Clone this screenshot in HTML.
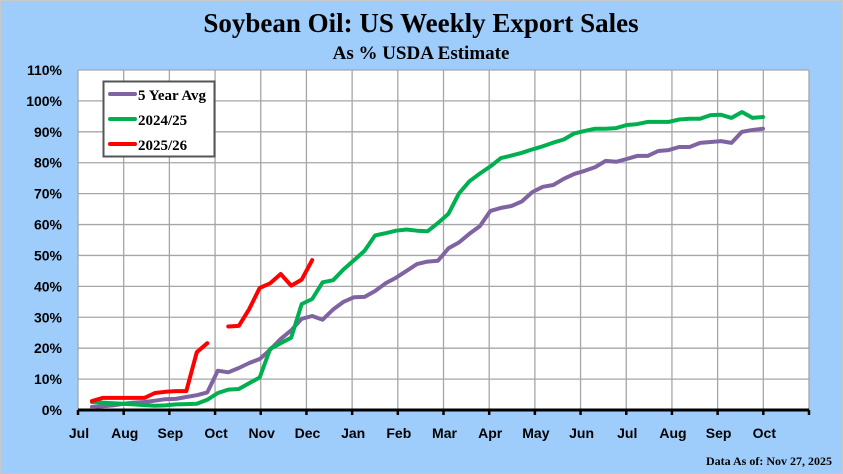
<!DOCTYPE html>
<html><head><meta charset="utf-8"><style>
html,body{margin:0;padding:0;}
body{width:843px;height:474px;overflow:hidden;background:#9fcdfb;}
svg{display:block;}
</style></head><body>
<svg width="843" height="474" xmlns="http://www.w3.org/2000/svg">
<rect x="0.5" y="0.5" width="842" height="473" fill="#9fcdfb" stroke="#c8c8c8"/>
<text x="421" y="32" text-anchor="middle" font-family="Liberation Serif, serif" font-weight="bold" font-size="27" fill="#000">Soybean Oil: US Weekly Export Sales</text>
<text x="421" y="59" text-anchor="middle" font-family="Liberation Serif, serif" font-weight="bold" font-size="19" fill="#000">As % USDA Estimate</text>
<rect x="78" y="70" width="731" height="340" fill="#fff"/>
<g id="grid"></g>
<g id="axes"></g>
<g id="series"></g>
<g>
<rect x="103.5" y="81.5" width="111" height="75" fill="#fff" stroke="#555" stroke-width="2"/>
<line x1="110" y1="94" x2="135" y2="94" stroke="#8064a2" stroke-width="4" stroke-linecap="round"/>
<text x="138" y="100" font-family="Liberation Serif, serif" font-weight="bold" font-size="15">5 Year Avg</text>
<line x1="110" y1="119" x2="135" y2="119" stroke="#00b050" stroke-width="4" stroke-linecap="round"/>
<text x="138" y="125" font-family="Liberation Serif, serif" font-weight="bold" font-size="15">2024/25</text>
<line x1="110" y1="144" x2="135" y2="144" stroke="#ff0000" stroke-width="4" stroke-linecap="round"/>
<text x="138" y="150" font-family="Liberation Serif, serif" font-weight="bold" font-size="15">2025/26</text>
</g>
<text x="832" y="465" text-anchor="end" font-family="Liberation Serif, serif" font-weight="bold" font-size="12">Data As of: Nov 27, 2025</text>
</svg>
<script>
const monthLabels=["Jul","Aug","Sep","Oct","Nov","Dec","Jan","Feb","Mar","Apr","May","Jun","Jul","Aug","Sep","Oct"];
const yTicks=[0,10,20,30,40,50,60,70,80,90,100,110];
const weeks=[];for(let i=0;i<=65;i++)weeks.push(i);
const avg5=[null,1.0,1.2,1.5,2,2.4,2.6,3,3.5,3.6,4.2,4.8,5.7,12.7,12.2,13.6,15.2,16.5,19.5,23,25.8,29.5,30.4,29.2,32.5,35,36.5,36.6,38.5,41,42.8,45,47.2,48,48.3,52.3,54.2,57,59.5,64.4,65.4,66,67.5,70.5,72.2,72.8,74.8,76.4,77.4,78.6,80.6,80.3,81.2,82.2,82.2,83.8,84.1,85.1,85.1,86.4,86.7,87,86.4,90,90.6,91];
const y2024=[null,2.6,2.4,2.2,2,1.8,1.6,1.4,1.5,1.8,1.9,2,3.3,5.5,6.6,6.8,8.7,10.5,19.8,21.6,23.4,34.3,35.9,41.3,42,45.5,48.5,51.5,56.5,57.2,58,58.4,58,57.8,60.5,63.5,70,74,76.5,78.8,81.5,82.3,83.2,84.3,85.3,86.5,87.5,89.5,90.3,91,91,91.2,92.2,92.5,93.2,93.2,93.2,94,94.2,94.2,95.4,95.5,94.5,96.4,94.5,94.8];
const y2025=[null,2.9,3.9,3.9,3.9,3.9,3.9,5.5,5.9,6.1,6.1,18.7,21.6,null,27,27.2,32.7,39.5,41,44,40.2,42.2,48.5];
const NS="http://www.w3.org/2000/svg";
const X0=78,X1=809,Y0=410,Y1=70;
function yScale(v){return Y0-(v/110)*(Y0-Y1);}
function xWeek(w){return 81.5+w*(763-81.5)/65;}
function xMonth(i){return X0+i*(X1-X0)/16;}
function mk(tag,attrs,parent){const e=document.createElementNS(NS,tag);for(const k in attrs)e.setAttribute(k,attrs[k]);parent.appendChild(e);return e;}
const grid=document.getElementById('grid'),axes=document.getElementById('axes'),series=document.getElementById('series');
yTicks.forEach(v=>{
  const l=mk('line',{x1:X0,x2:X1,y1:yScale(v),y2:yScale(v),stroke:'#a6a6a6','stroke-width':1.3},grid);
  
  
  const t=mk('text',{x:62,y:yScale(v)+5,'text-anchor':'end','font-family':'Liberation Sans, sans-serif','font-weight':'bold','font-size':14},axes);
  t.textContent=v+'%';
  
  
});
for(let i=0;i<=16;i++){
  const l=mk('line',{x1:xMonth(i),x2:xMonth(i),y1:Y1,y2:Y0,stroke:'#a6a6a6','stroke-width':1.3},grid);
  
  
  const tk=mk('line',{x1:xMonth(i),x2:xMonth(i),y1:Y0,y2:Y0+5,stroke:'#000','stroke-width':2.5},axes);
  
  
}
monthLabels.forEach((m,i)=>{
  const t=mk('text',{x:xMonth(i)+1,y:438,'text-anchor':'middle','font-family':'Liberation Sans, sans-serif','font-weight':'bold','font-size':14},axes);
  t.textContent=m;
  
  
});
const ax=mk('line',{x1:X0,x2:X1,y1:Y0,y2:Y0,stroke:'#000','stroke-width':3},axes);


function draw(vals,color,name){
  let d='',pen=false;
  vals.forEach((v,i)=>{
    if(v===null||v===undefined){pen=false;return;}
    d+=(pen?'L':'M')+xWeek(weeks[i]).toFixed(1)+' '+yScale(v).toFixed(1)+' ';pen=true;
  });
  const p=mk('path',{d:d,fill:'none',stroke:color,'stroke-width':4,'stroke-linejoin':'round','stroke-linecap':'round'},series);
  
  
}
draw(avg5,'#8064a2','line-5-year-avg');
draw(y2024,'#00b050','line-2024-25');
draw(y2025,'#ff0000','line-2025-26');
</script>
</body></html>
